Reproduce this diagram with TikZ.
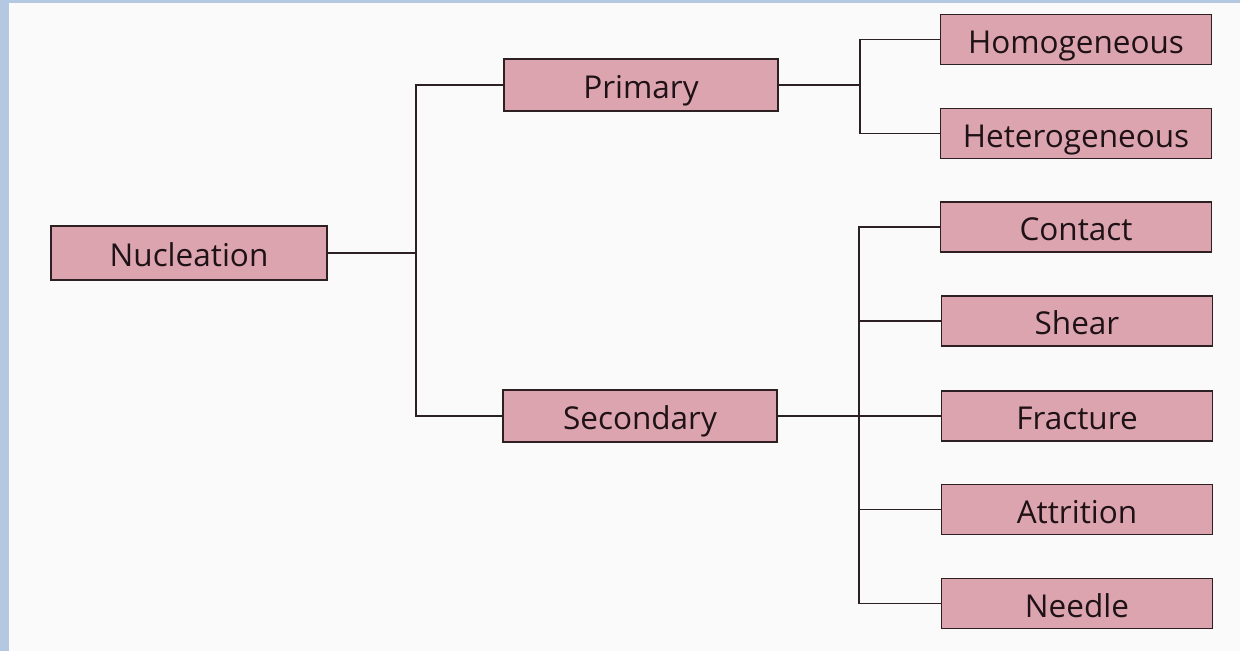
\documentclass[tikz,border=0pt]{standalone}
\usepackage{fontspec}
\setmainfont{Open Sans}
\definecolor{boxfill}{RGB}{220,164,175}
\definecolor{boxline}{RGB}{45,32,35}
\definecolor{txt}{RGB}{30,18,22}
\definecolor{paper}{RGB}{250,250,250}
\definecolor{frame}{RGB}{180,200,226}
\tikzset{
  box/.style={draw=boxline, line width=1.9pt, fill=boxfill, text=txt,
    inner sep=0pt, text height=29pt, text depth=2pt,
    font=\fontsize{31.5}{36}\selectfont},
  leaf/.style={box, minimum width=271pt, minimum height=50pt},
  mid/.style={box, minimum width=274pt, minimum height=52pt},
  conn/.style={draw=boxline, line width=1.6pt}
}
\begin{document}
\begin{tikzpicture}[x=1pt,y=-1pt]
\fill[paper] (0,0) rectangle (1240,651);
\fill[frame] (0,0) rectangle (9,651);
\fill[frame] (0,0) rectangle (1240,3);
\useasboundingbox (0,0) rectangle (1240,651);

\node[box, minimum width=276pt, minimum height=54pt] (nuc) at (189,253) {Nucleation};
\node[mid] (pri) at (641,85) {Primary};
\node[mid] (sec) at (640,416) {Secondary};

\node[leaf] (hom) at (1076,39.5) {Homogeneous};
\node[leaf] (het) at (1076,133.5) {Heterogeneous};
\node[leaf] (con) at (1076,227) {Contact};
\node[leaf] (she) at (1077,321) {Shear};
\node[leaf] (fra) at (1077,416) {Fracture};
\node[leaf] (att) at (1077,509.5) {Attrition};
\node[leaf] (nee) at (1077,603.5) {Needle};

\coordinate (j1) at (416,253);
\coordinate (j2) at (860,85);
\coordinate (j3) at (859,416);

\draw[conn] (nuc.east) -- (j1);
\draw[conn] (pri.west) -| (j1);
\draw[conn] (sec.west) -| (j1);

\draw[conn] (pri.east) -- (j2);
\draw[conn] (hom.west) -| (j2);
\draw[conn] (het.west) -| (j2);

\draw[conn] (sec.east) -- (fra.west);
\draw[conn] (con.west) -| (j3);
\draw[conn] (she.west) -| (j3);
\draw[conn] (att.west) -| (j3);
\draw[conn] (nee.west) -| (j3);
\end{tikzpicture}
\end{document}
